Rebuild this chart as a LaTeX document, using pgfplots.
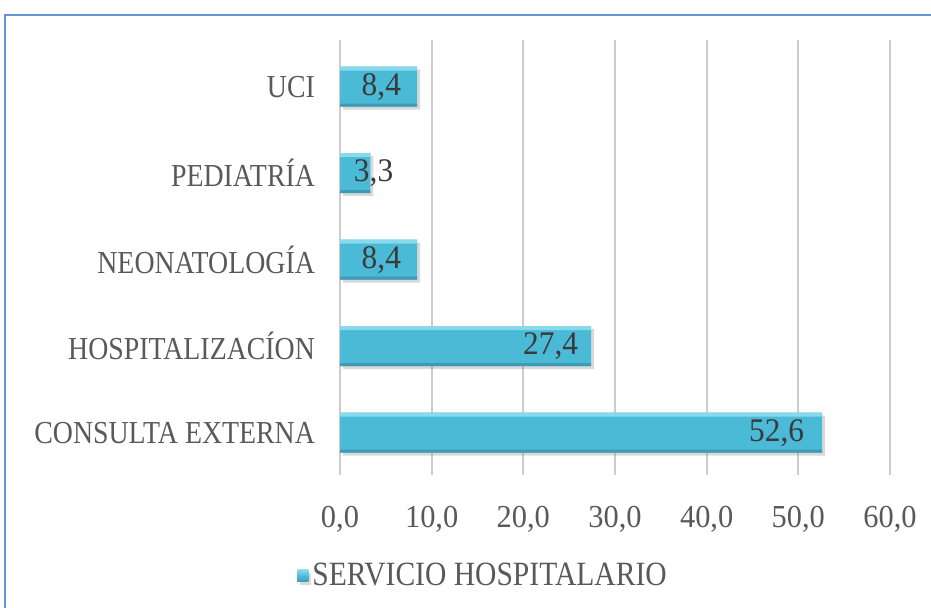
\documentclass[border=0pt]{standalone}
\usepackage{fontspec}
\setmainfont{Liberation Serif}[FakeStretch=0.87]
\newfontfamily\numfont{Liberation Serif}[FakeStretch=0.95]
\usepackage{pgfplots}
\pgfplotsset{compat=1.18}
\usepackage{pgfplotstable}
\usetikzlibrary{shadows}
\definecolor{barMid}{HTML}{4BBAD6}
\definecolor{barLight}{HTML}{86DAEC}
\definecolor{barDark}{HTML}{3F9AB4}
\definecolor{labelGray}{HTML}{595959}
\definecolor{valueInk}{HTML}{3A3A3A}
\definecolor{frameBlue}{HTML}{6494D4}

% pos val dx(pt)
\pgfplotstableread{
pos val dx
0 52.6 -5.5
1 27.4 -3
2 8.4 -4.5
3 3.3 15
4 8.4 -4.5
}\servicio

\begin{document}
\begin{tikzpicture}
\useasboundingbox (0,0) rectangle (465.5pt,304pt);
\draw[frameBlue, line width=1.2pt] (2.5pt,0) -- (2.5pt,296.5pt) -- (465.5pt,296.5pt);
\begin{axis}[
    at={(170pt,66.5pt)}, anchor=south west,
    scale only axis, width=275pt, height=217.5pt,
    xmin=0, xmax=60, ymin=-0.49, ymax=4.54,
    xtick={0,10,...,60},
    ytick={0,1,2,3,4},
    yticklabels={CONSULTA EXTERNA,HOSPITALIZACÍON,NEONATOLOGÍA,PEDIATRÍA,UCI},
    axis line style={draw=none},
    major tick length=0pt,
    xmajorgrids, grid style={black!20, line width=1.1pt},
    yticklabel style={font=\fontsize{16}{18}\selectfont, text=labelGray, xshift=-9pt},
    xticklabel style={font=\numfont\fontsize{16}{18}\selectfont, text=labelGray, yshift=-12pt},
    /pgf/number format/.cd, use comma, fixed, fixed zerofill, precision=1, assume math mode=true,
    /pgfplots/.cd,
    legend style={at={(0.262,-0.232)}, anchor=center, draw=none, fill=none,
                  font=\fontsize{17}{19}\selectfont, text=labelGray,
                  /tikz/every even column/.append style={column sep=1pt}},
    legend image code/.code={\fill[top color=barLight, bottom color=barDark, middle color=barMid]
        (0pt,-3pt) rectangle (5.5pt,3pt);},
  ]
  \addplot[xbar, bar width=20pt, bar shift=0pt, draw=none, fill=barMid,
      drop shadow={opacity=0.3, shadow xshift=1.5pt, shadow yshift=-1.5pt},
      point meta=x, nodes near coords,
      visualization depends on={\thisrow{dx} \as \dx},
      every node near coord/.append style={anchor=east, xshift=\dx pt,
          font=\numfont\fontsize{16.5}{18}\selectfont, text=valueInk}]
    table[x=val, y=pos] {\servicio};
  \addplot[xbar, forget plot, bar width=2pt, bar shift=9pt, draw=none, fill=barLight]
    table[x=val, y=pos] {\servicio};
  \addplot[xbar, forget plot, bar width=1.5pt, bar shift=-9.25pt, draw=none, fill=barDark]
    table[x=val, y=pos] {\servicio};
  \legend{SERVICIO HOSPITALARIO}
\end{axis}
\end{tikzpicture}
\end{document}
